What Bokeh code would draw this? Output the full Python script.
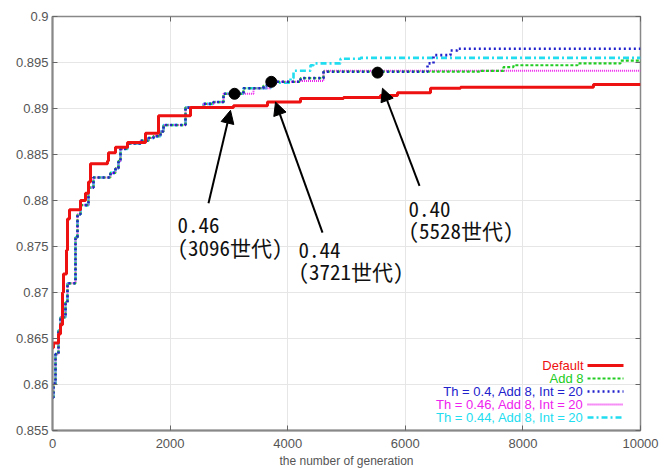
import numpy as np
from bokeh.plotting import figure
from bokeh.models import Range1d, FixedTicker, LinearAxis, Arrow, NormalHead, Label
from bokeh.core.properties import value
from bokeh.embed import file_html
from bokeh.resources import INLINE

# ---------------- data ----------------
x_ticks = [0, 2000, 4000, 6000, 8000, 10000]
y_ticks = [0.855, 0.86, 0.865, 0.87, 0.875, 0.88, 0.885, 0.89, 0.895, 0.9]
y_tick_labels = ["0.855", "0.86", "0.865", "0.87", "0.875", "0.88", "0.885", "0.89", "0.895", "0.9"]

default_gen = [0, 17, 102, 136, 170, 187, 238, 255, 289, 476, 561, 612, 646, 935, 952, 1071,
               1276, 1582, 1803, 2347, 3078, 3656, 4218, 4949, 5578, 5867, 6429, 6939, 9200, 10000]
default_val = [0.8640, 0.8645, 0.8655, 0.8665, 0.8700, 0.8720, 0.8746, 0.8780, 0.8790, 0.8800,
               0.8808, 0.8820, 0.8840, 0.8843, 0.8852, 0.8858, 0.8863, 0.8873, 0.8892, 0.8901,
               0.8903, 0.8907, 0.8911, 0.8912, 0.8914, 0.8917, 0.8922, 0.8923, 0.8926, 0.8926]

# early part shared by the runs with adding
early_gen = [0, 17, 51, 102, 136, 221, 255, 391, 425, 476, 612, 697, 986, 1071, 1122, 1156,
             1276, 1497, 1633, 1718, 1837, 1888, 2262, 2568, 2738, 2908]
early_val = [0.8586, 0.8601, 0.8633, 0.8659, 0.8673, 0.8689, 0.8710, 0.8760, 0.8785, 0.8795,
             0.8814, 0.8825, 0.8830, 0.8835, 0.8843, 0.8856, 0.8862, 0.8865, 0.8868, 0.8870,
             0.8875, 0.8882, 0.8901, 0.8905, 0.8907, 0.8916]

add8_gen = [3248, 3588, 3707, 4218, 4609, 7279, 7670, 7840, 8929, 9660, 10000]
add8_val = [0.8922, 0.8925, 0.8929, 0.8933, 0.8940, 0.8941, 0.8945, 0.8947, 0.8949, 0.8952, 0.8951]

th040_gen = [3248, 3588, 3707, 4218, 4609, 6259, 6378, 6480, 6769, 6888, 10000]
th040_val = [0.8922, 0.8925, 0.8929, 0.8933, 0.8940, 0.8940, 0.8949, 0.8958, 0.8963, 0.8965, 0.8965]

th046_gen = [3418, 3707, 4218, 4609, 10000]
th046_val = [0.8922, 0.8929, 0.8930, 0.8941, 0.8941]

th044_gen = [3248, 3707, 4048, 4099, 4388, 4439, 4898, 5238, 10000]
th044_val = [0.8922, 0.8928, 0.8933, 0.8941, 0.8947, 0.8949, 0.8954, 0.8955, 0.8955]

# switching points
point_gen = [3096, 3721, 5528]
point_val = [0.8916, 0.8929, 0.8939]
point_th = ["0.46", "0.44", "0.40"]
point_txt = ["(3096世代)", "(3721世代)", "(5528世代)"]

legend_labels = ["Default", "Add 8", "Th = 0.4, Add 8, Int = 20",
                 "Th = 0.46, Add 8, Int = 20", "Th = 0.44, Add 8, Int = 20"]

# ---------------- styles ----------------
colors = ["#ee1111", "#22cc22", "#2222cc", "#ee22ee", "#22ddf0"]
dashes = ["solid", "3 2", "2 3", "1 1", "6 3 2 3"]
widths = [3.0, 2.2, 2.6, 2.0, 2.6]

series_x = [default_gen, early_gen + add8_gen, early_gen + th040_gen,
            early_gen + th046_gen, early_gen + th044_gen]
series_y = [default_val, early_val + add8_val, early_val + th040_val,
            early_val + th046_val, early_val + th044_val]

p = figure(frame_width=588, frame_height=414, output_backend="svg", toolbar_location=None,
           x_range=Range1d(0, 10000), y_range=Range1d(0.855, 0.9),
           min_border_left=52, min_border_right=23, min_border_top=16, min_border_bottom=10,
           background_fill_color="white", border_fill_color="white")
p.outline_line_color = "#888888"
p.outline_line_width = 1.5
p.grid.grid_line_color = "#e6e6e6"
p.grid.grid_line_width = 1
p.xgrid.ticker = FixedTicker(ticks=x_ticks)
p.ygrid.ticker = FixedTicker(ticks=y_ticks)

for ax in [p.xaxis[0], p.yaxis[0]]:
    ax.axis_line_color = "#888888"
    ax.axis_line_width = 2
    ax.major_tick_in = 5
    ax.major_tick_out = 0
    ax.minor_tick_line_color = None
    ax.major_tick_line_color = "#666666"
    ax.major_label_text_color = "#555555"
    ax.major_label_text_font = "Liberation Sans"
    ax.major_label_text_font_size = "13px"
p.xaxis.ticker = FixedTicker(ticks=x_ticks)
p.yaxis.ticker = FixedTicker(ticks=y_ticks)
p.yaxis.major_label_overrides = {t: l for t, l in zip(y_ticks, y_tick_labels)}
p.yaxis.major_label_standoff = 4
p.xaxis.major_label_standoff = 8
p.xaxis.axis_label = "the number of generation"
p.xaxis.axis_label_text_font = "Liberation Sans"
p.xaxis.axis_label_text_font_size = "12px"
p.xaxis.axis_label_text_font_style = "normal"
p.xaxis.axis_label_text_color = "#555555"
p.xaxis.axis_label_standoff = 3

for loc, tk in [("above", x_ticks), ("right", y_ticks)]:
    ax = LinearAxis(ticker=FixedTicker(ticks=tk), major_tick_in=5, major_tick_out=0,
                    minor_tick_line_color=None, axis_line_color=None,
                    major_tick_line_color="#666666", major_label_standoff=0,
                    major_label_overrides={t: "" for t in tk})
    p.add_layout(ax, loc)

order = [4, 3, 1, 2, 0]
for i in order:
    p.step(series_x[i], series_y[i], mode="after", line_color=colors[i],
           line_dash=dashes[i], line_width=widths[i])

# switching points and arrows
p.scatter(point_gen, point_val, size=11, color="black")

arrow_tail_x = [2653, 4592, 6242]
arrow_tail_y = [0.8797, 0.8765, 0.8816]
arrow_head_x = [3027, 3793, 5612]
arrow_head_y = [0.8898, 0.8907, 0.8922]
for tx, ty, hx, hy in zip(arrow_tail_x, arrow_tail_y, arrow_head_x, arrow_head_y):
    p.add_layout(Arrow(x_start=tx, y_start=ty, x_end=hx, y_end=hy, line_width=2,
                       line_color="black",
                       end=NormalHead(size=13, fill_color="black", line_color="black", line_width=1)))

jfont = "'Noto Sans Mono CJK JP', 'Noto Sans CJK JP'"
lab_x = [2126, 4184, 6054]
lab_y1 = [0.8773, 0.8746, 0.8791]
lab_y2 = [0.8750, 0.8723, 0.8768]
for k in range(3):
    p.add_layout(Label(x=lab_x[k], y=lab_y1[k], text=point_th[k], text_font=jfont,
                       text_font_size="21px", text_color="#111111", text_baseline="middle"))
    p.add_layout(Label(x=lab_x[k], y=lab_y2[k], text=point_txt[k], text_font=jfont,
                       text_font_size="21px", text_color="#111111", text_baseline="middle"))

# legend drawn manually: label text left of its sample line
leg_y = [0.86207, 0.86065, 0.85924, 0.85783, 0.85641]
leg_text_x = 9031
leg_line_x0, leg_line_x1 = 9099, 9711
for i in range(5):
    p.add_layout(Label(x=leg_text_x, y=leg_y[i], text=legend_labels[i], text_align="right",
                       text_baseline="middle", text_font="Liberation Sans",
                       text_font_size="13px", text_color=colors[i]))
    p.line([leg_line_x0, leg_line_x1], [leg_y[i], leg_y[i]], line_color=colors[i],
           line_dash=dashes[i], line_width=widths[i])

open("out.html", "w").write(file_html(p, INLINE))
